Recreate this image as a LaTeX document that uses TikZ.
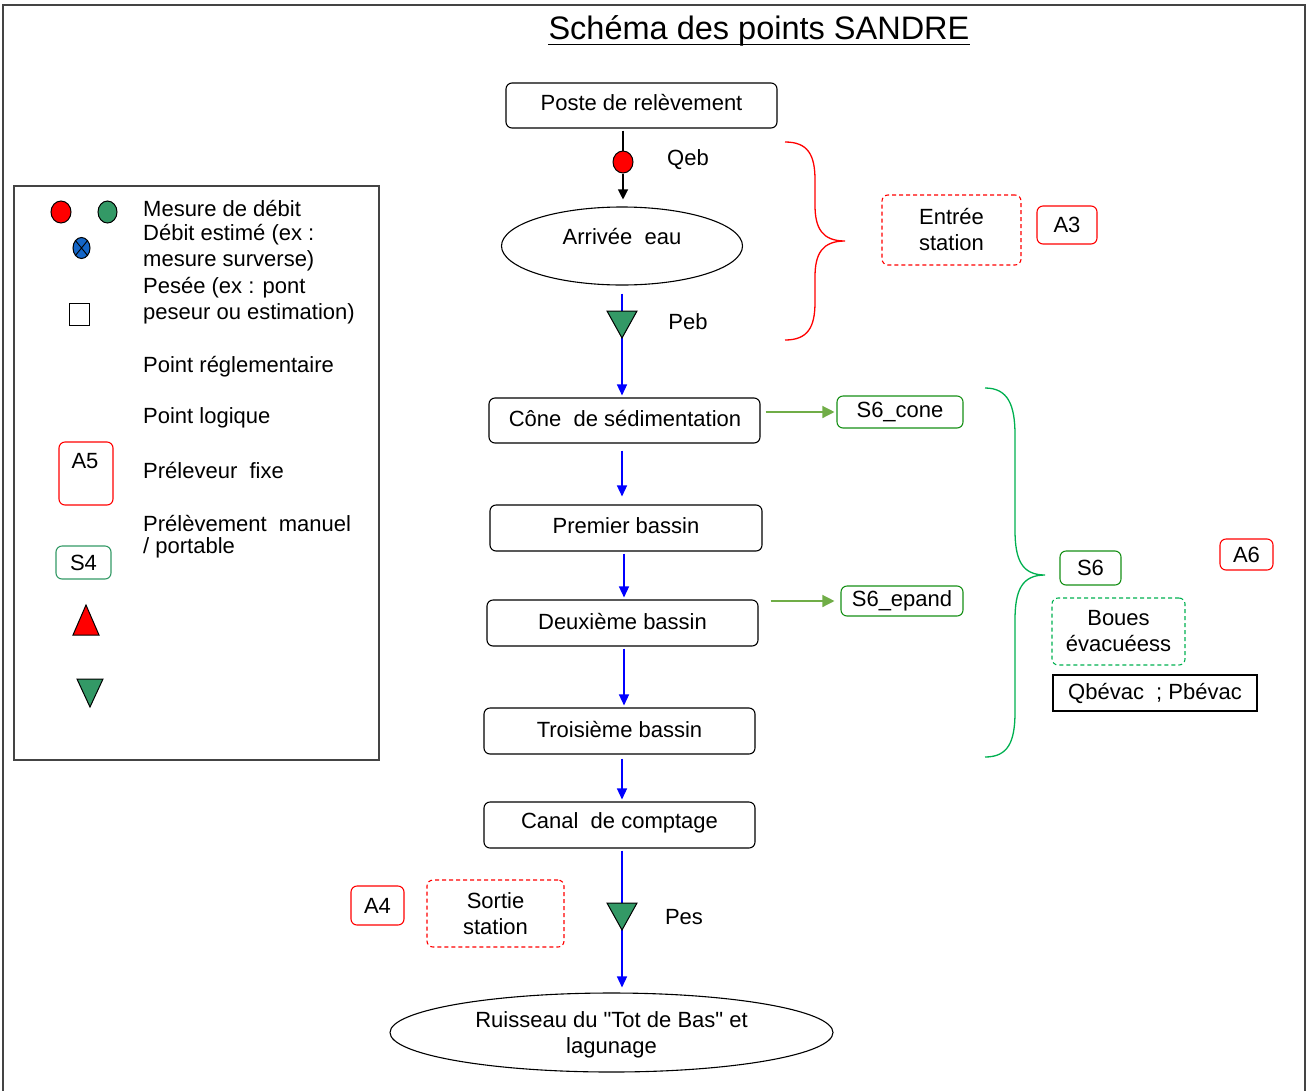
\documentclass[tikz,border=0pt]{standalone}
\usepackage{fontspec}
\setmainfont{Liberation Sans}
\newfontfamily\nqfont{Liberation Sans}
\usetikzlibrary{shapes.geometric,arrows.meta}
\definecolor{mred}{HTML}{FF0000}
\definecolor{mgreen}{HTML}{339966}
\definecolor{bgreen}{HTML}{168F16}
\definecolor{lgreen}{HTML}{00B050}
\definecolor{agreen}{HTML}{70AD47}
\definecolor{mblue}{HTML}{0000FF}
\definecolor{cblue}{HTML}{1466C8}
\definecolor{frame}{HTML}{444444}
\begin{document}
\begin{tikzpicture}[x=1pt,y=-1pt,
  font=\fontsize{22}{26}\selectfont,
  box/.style={draw, line width=1.1pt, rounded corners=6pt, inner sep=0pt, align=center},
  rbox/.style={box, draw=mred},
  gbox/.style={box, draw=bgreen},
  txt/.style={inner sep=0pt, align=center},
  ltxt/.style={inner sep=0pt, anchor=west},
  flow/.style={draw=mblue, line width=1.4pt, -{Triangle[length=11pt,width=10pt]}},
  garrow/.style={draw=agreen, line width=1.3pt, -{Triangle[length=12pt,width=12pt]}},
  brace/.style={line width=1.3pt},
  tri/.style={draw=black, line width=1pt, fill=mgreen},
  dot/.style={ellipse, draw=black, line width=1pt, inner sep=0pt}
]
\useasboundingbox (0,0) rectangle (1308,1090);
% outer frame
\draw[frame, line width=1.2pt] (3,1096) -- (3,5) -- (1305,5) -- (1305,1096);

% title
\node[txt, font=\fontsize{32.5}{36}\selectfont] (title) at (759,31) {Schéma des points SANDRE};
\draw[line width=1.5pt] ([yshift=-5pt]title.base west) -- ([yshift=-5pt]title.base east);

% legend
\draw[frame, line width=1.2pt] (14,186) rectangle (379,760);
\node[dot, fill=mred, minimum width=20pt, minimum height=22pt] (lred) at (61,212) {};
\node[dot, fill=mgreen, minimum width=19pt, minimum height=22pt] (lgrn) at (107.5,212) {};
\node[dot, fill=cblue, minimum width=17pt, minimum height=21pt,
  path picture={\draw[black, line width=0.9pt] (path picture bounding box.north west) -- (path picture bounding box.south east)
  (path picture bounding box.north east) -- (path picture bounding box.south west);}] (lblue) at (81.5,248) {};
\node[draw=black, line width=1pt, minimum width=20pt, minimum height=22pt, inner sep=0pt] (lsq) at (79,314) {};
\node[rbox, minimum width=54pt, minimum height=63pt] (la5) at (86,473.5) {};
\node[txt] at (85,461) {A5};
\node[box, draw=mgreen, minimum width=55pt, minimum height=33pt] (ls4) at (83.5,562.5) {S4};
\path[draw=black, line width=1pt, fill=mred] (73,635) -- (99,635) -- (86,605) -- cycle;
\path[tri] (77,679) -- (103,679) -- (90,707) -- cycle;

\node[ltxt] at (143,209) {Mesure de débit};
\node[ltxt] at (143,235) {Débit estimé (ex :};
\node[ltxt] at (143,261) {mesure surverse)};
\node[ltxt] at (143,288) {Pesée (ex : pont};
\node[ltxt] at (143,314) {peseur ou estimation)};
\node[ltxt] at (143,367) {Point réglementaire};
\node[ltxt] at (143,418) {Point logique};
\node[ltxt] at (143,470) {Préleveur\ \ fixe};
\node[ltxt] at (143,523) {Prélèvement\ \ manuel};
\node[ltxt] at (143,548) {/ portable};

% main flow nodes
\coordinate (fx) at (622,0);
\coordinate (fy) at (624,0);
\node[box, minimum width=271pt, minimum height=45pt] (poste) at (641.5,105.5) {};
\node[txt] at (641.5,103) {Poste de relèvement};
\node[dot, fill=mred, minimum width=20pt, minimum height=22pt] (qeb) at (623,162) {};
\node[txt] at (688,160) {Qeb};
\node[ellipse, draw, line width=1.1pt, minimum width=241pt, minimum height=78pt, inner sep=0pt] (arrivee) at (622,246) {};
\node[txt] at (622,237) {Arrivée\ \ eau};
\node[txt] at (688,322) {Peb};
\node[box, minimum width=271pt, minimum height=45pt] (cone) at (624.5,420.5) {};
\node[txt] at (625,418.5) {Cône\ \ de sédimentation};
\node[box, minimum width=272pt, minimum height=46pt] (premier) at (626,528) {};
\node[txt] at (626,526) {Premier bassin};
\node[box, minimum width=271pt, minimum height=46pt] (deux) at (622.5,623) {};
\node[txt] at (622.5,621) {Deuxième bassin};
\node[box, minimum width=271pt, minimum height=46pt] (trois) at (619.5,731) {};
\node[txt] at (619.5,729) {Troisième bassin};
\node[box, minimum width=271pt, minimum height=46pt] (canal) at (619.5,825) {};
\node[txt] at (619.5,823) {Canal\ \ de comptage};
\node[txt] at (684,917) {Pes};
\node[ellipse, draw, line width=1.1pt, minimum width=443pt, minimum height=79pt, inner sep=0pt] (ruis) at (611.5,1032.5) {};
\node[txt, font=\fontsize{22}{26}\nqfont] at (611.5,1035) {Ruisseau du "Tot de Bas" et\\lagunage};

% side nodes
\node[rbox, dashed, dash pattern=on 4pt off 3pt, minimum width=139pt, minimum height=70pt] (entree) at (951.5,230) {Entrée\\station};
\node[rbox, minimum width=60pt, minimum height=38pt] (a3) at (1067,225) {A3};
\node[gbox, minimum width=126pt, minimum height=32pt] (s6cone) at (900,412) {S6\_cone};
\node[gbox, minimum width=122pt, minimum height=30pt] (s6epand) at (902,601) {S6\_epand};
\node[gbox, minimum width=61pt, minimum height=34pt] (s6) at (1090.5,568) {S6};
\node[rbox, minimum width=53pt, minimum height=31pt] (a6) at (1246.5,554.5) {A6};
\node[box, draw=lgreen, dashed, dash pattern=on 4pt off 3pt, minimum width=133pt, minimum height=67pt] (boues) at (1118.5,631.5) {Boues\\évacuéess};
\node[draw, line width=1.1pt, inner sep=0pt, minimum width=204pt, minimum height=36pt] (qb) at (1155,693) {Qbévac\ \ ; Pbévac};
\node[rbox, minimum width=53pt, minimum height=39pt] (a4) at (377.5,905.5) {A4};
\node[rbox, dashed, dash pattern=on 4pt off 3pt, minimum width=137pt, minimum height=67pt] (sortie) at (495.5,913.5) {Sortie\\station};

% connectors
\draw[line width=1.2pt, shorten <=2pt] (poste.south -| qeb) -- (qeb.north);
\draw[line width=1.2pt, -{Triangle[length=10pt,width=10pt]}, shorten >=7pt] (qeb.south) -- (qeb.south |- arrivee.north);
\draw[flow, shorten <=8pt, shorten >=2pt] (arrivee.south -| fx) -- (cone.north -| fx);
\path[tri] (607,311) -- (637,311) -- (622,338) -- cycle;
\draw[flow, shorten <=7pt, shorten >=8pt] (cone.south -| fx) -- (premier.north -| fx);
\draw[flow, shorten <=2pt, shorten >=2pt] (premier.south -| fy) -- (deux.north -| fy);
\draw[flow, shorten <=2pt, shorten >=2pt] (deux.south -| fy) -- (trois.north -| fy);
\draw[flow, shorten <=4pt, shorten >=2pt] (trois.south -| fx) -- (canal.north -| fx);
\draw[flow, shorten <=2pt, shorten >=5pt] (canal.south -| fx) -- (ruis.north -| fx);
\path[tri] (607,903) -- (637,903) -- (622,930) -- cycle;
\draw[garrow, shorten <=5pt, shorten >=2pt] (cone.east |- s6cone.west) -- (s6cone.west);
\draw[garrow, shorten <=12pt, shorten >=6pt] (deux.east |- s6epand.west) -- (s6epand.west);

% braces
\draw[brace, mred] (785,142) .. controls (808,142) and (815,155) .. (815,180) -- (815,205)
  .. controls (815,228) and (822,241) .. (845,241)
  .. controls (822,241) and (815,254) .. (815,277) -- (815,302)
  .. controls (815,327) and (808,340) .. (785,340);
\draw[brace, lgreen] (985,388) .. controls (1008,388) and (1015,405) .. (1015,435) -- (1015,530)
  .. controls (1015,560) and (1022,575) .. (1045,575)
  .. controls (1022,575) and (1015,590) .. (1015,620) -- (1015,712)
  .. controls (1015,742) and (1008,757) .. (985,757);
\end{tikzpicture}
\end{document}
